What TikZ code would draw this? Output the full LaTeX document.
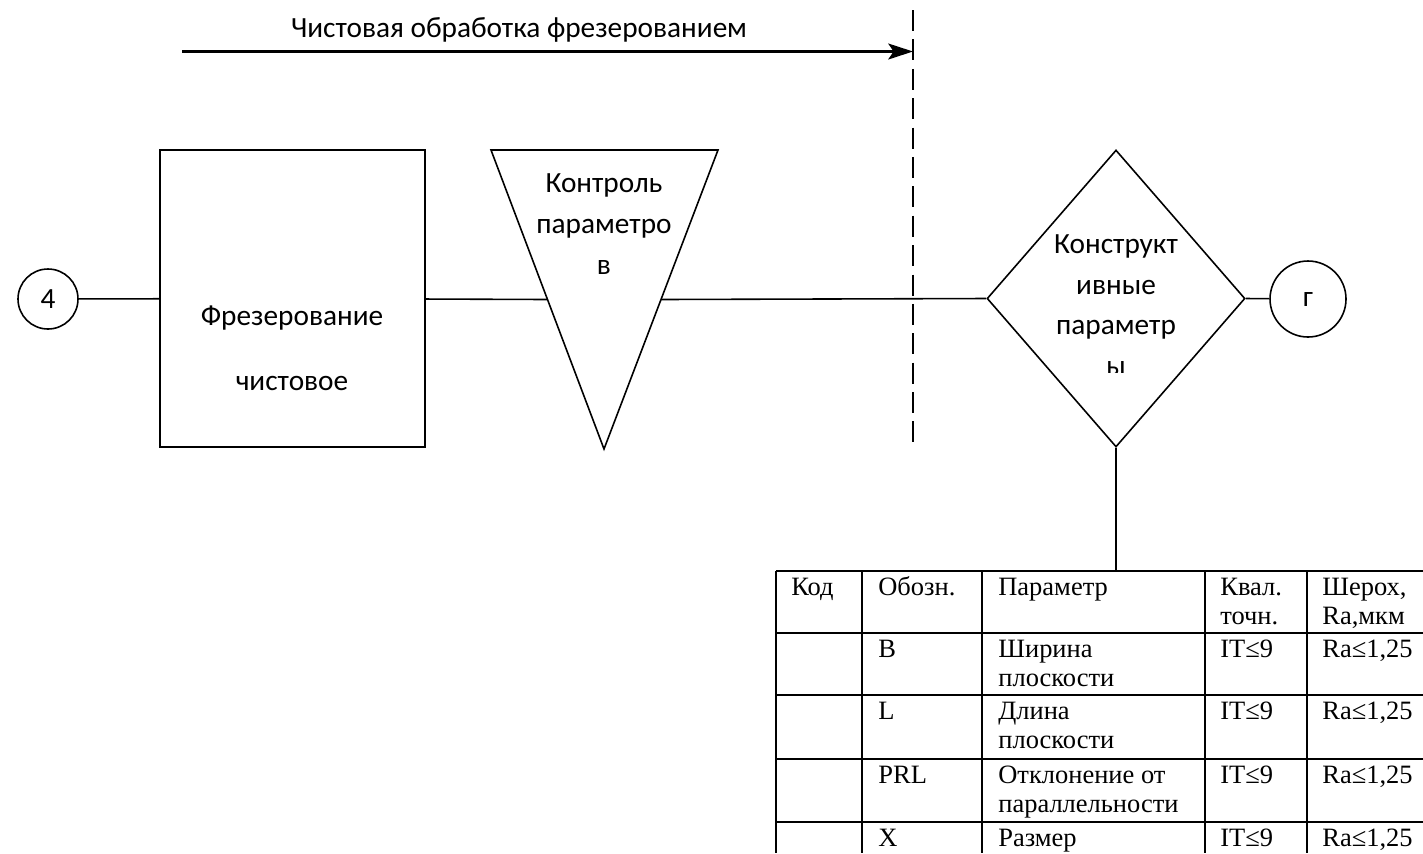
\documentclass[tikz,border=0pt]{standalone}
\usepackage{fontspec}
\setmainfont{Carlito}
\newfontfamily\tabfont{Liberation Serif}
\usetikzlibrary{positioning, arrows.meta, calc, shapes.geometric}
\newcommand{\pxu}{0.5665pt}

\begin{document}
\begin{tikzpicture}[
    x=0.5665pt, y=-0.5665pt,
    line/.style={line width=0.9pt},
    flow/.style={-{Stealth[length=14pt, width=9pt, inset=3pt]}, line width=1.5pt},
    cut/.style={line width=1.5pt, dash pattern=on 11.9pt off 4.75pt},
    label/.style={font=\fontsize{16.6}{23}\selectfont, align=center, inner sep=0pt},
    term/.style={circle, draw, line width=0.9pt, minimum size=60*\pxu, inner sep=0pt, font=\fontsize{16.6}{20}\selectfont},
    opbox/.style={rectangle, draw, line width=0.9pt, minimum width=265*\pxu, minimum height=297*\pxu},
    check/.style={diamond, draw, line width=0.9pt, minimum width=258*\pxu, minimum height=297*\pxu, inner sep=0pt},
    grid/.style={line width=0.9pt},
    cell/.style={anchor=base west, font=\tabfont\fontsize{15}{16.5}\selectfont, align=left, inner sep=0pt},
    pair/.style={cell, yshift=-16.5pt},
]
\useasboundingbox (0,0) rectangle (1423,853);

% ========== STAGE ==========
\coordinate (cut top) at (913,10);
\coordinate (cut bot) at (913,443);
\draw[cut] (cut top) -- (cut bot);

\coordinate (run) at (182,51.5);
\draw[flow] (run) -- (run -| cut top);
\node[label] (stage) at (519,30) {Чистовая обработка фрезерованием};

% ========== OPERATIONS ==========
\node[term] (start) at (48,299) {4};

\node[opbox] (mill) at (292.5,298.5) {};
\node[label, font=\fontsize{16.6}{36.8}\selectfont] (milltxt) at (292,348) {Фрезерование\\чистовое};

% control (inverted triangle)
\coordinate (tri nw) at (491,150);
\coordinate (tri ne) at (718,150);
\coordinate (tri s) at (604,449);
\draw[line] (tri nw) -- (tri ne) -- (tri s) -- cycle;
\coordinate (tri in) at ($(tri nw)!0.5!(tri s)$);
\coordinate (tri out) at ($(tri ne)!0.5!(tri s)$);
\node[label] (ctrltxt) at (604,224) {Контроль\\параметро\\в};

% design parameters
\node[check] (param) at (1116,298.5) {};
\begin{scope}
    \clip (985,150) rectangle (1250,372);
    \node[label] (paramtxt) at (1116,305) {Конструкт\\ивные\\параметр\\ы};
\end{scope}

\node[term, minimum size=76*\pxu] (finish) at (1308,299) {г};

% ========== CONNECTORS ==========
\draw[line] (start) -- (mill);
\draw[line] (mill) -- (tri in);
\draw[line] (tri out) -- (param.west);
\draw[line] (param.east) -- (finish);
\coordinate (tab top) at (1116,571);
\draw[line] (param.south) -- (tab top);

% ========== TABLE ==========
\foreach \y in {571,633,695,759,822}
    \draw[grid] (776,\y) -- (1423,\y);
\foreach \x in {776,862,982,1205,1307}
    \draw[grid] (\x,571) -- (\x,853);

\node[cell] (h code) at (791,595) {Код};
\node[cell] (h sym) at (878,595) {Обозн.};
\node[cell] (h name) at (998,595) {Параметр};
\node[pair] (h tol) at (1220,595) {Квал.\\точн.};
\node[pair] (h rough) at (1322,595) {Шерох,\\Ra,мкм};

\foreach \ry/\sym/\name/\ns/\tol/\rough in {
    657/B/{Ширина\\плоскости}/pair/IT≤9/{Ra≤1,25},
    719/L/{Длина\\плоскости}/pair/IT≤9/{Ra≤1,25},
    783/PRL/{Отклонение от\\параллельности}/pair/IT≤9/{Ra≤1,25},
    846/X/{Размер}/cell/IT≤9/{Ra≤1,25}} {
    \node[cell] (sym-\ry) at (878,\ry) {\sym};
    \node[\ns] (name-\ry) at (998,\ry) {\name};
    \node[cell] (tol-\ry) at (1220,\ry) {\tol};
    \node[cell] (rough-\ry) at (1322,\ry) {\rough};
}

\end{tikzpicture}
\end{document}
